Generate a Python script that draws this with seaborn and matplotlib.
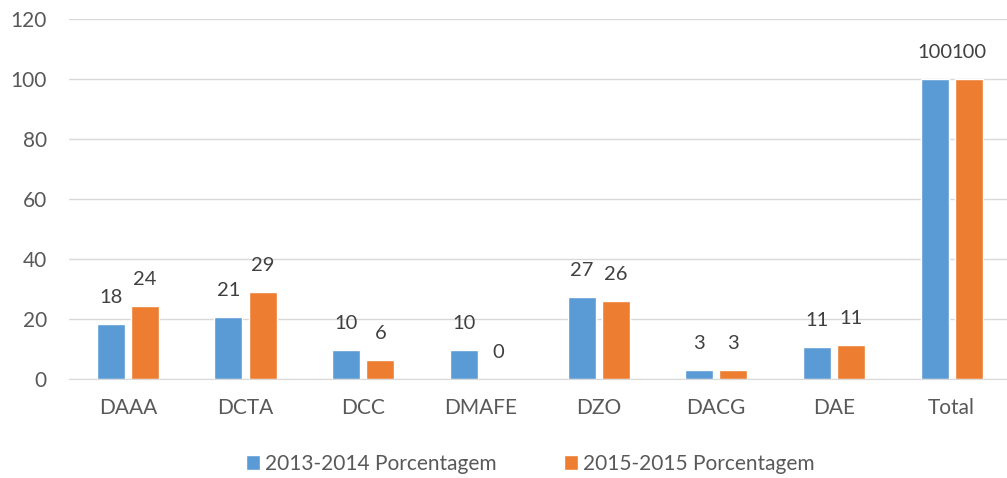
import pandas as pd
import matplotlib.pyplot as plt
import seaborn as sns

departamentos = ['DAAA', 'DCTA', 'DCC', 'DMAFE', 'DZO', 'DACG', 'DAE', 'Total']
pct_2013_2014 = [18.4, 20.8, 9.6, 9.6, 27.3, 3.05, 10.7, 100]
pct_2015_2015 = [24.3, 29.1, 6.2, 0, 25.9, 3.0, 11.2, 100]
series = ['2013-2014 Porcentagem', '2015-2015 Porcentagem']

df = pd.DataFrame({
    'departamento': departamentos * 2,
    'valor': pct_2013_2014 + pct_2015_2015,
    'serie': [series[0]] * len(departamentos) + [series[1]] * len(departamentos),
})

sns.set_style('white')
plt.rcParams['font.family'] = ['Lato', 'DejaVu Sans']

fig = plt.figure(figsize=(10.07, 4.78), dpi=100)
ax = fig.add_axes([0.0685, 0.207, 0.935, 0.753])

sns.barplot(data=df, x='departamento', y='valor', hue='serie',
            palette=['#5B9BD5', '#ED7D31'], width=0.58, gap=0.18,
            saturation=1, ax=ax, zorder=3)

for cont in ax.containers:
    ax.bar_label(cont, fmt='{:.0f}', padding=13, fontsize=14.5, color='#404040')

ax.set_ylim(0, 120)
ax.set_yticks(range(0, 121, 20))
ax.set_xlim(-0.5, len(departamentos) - 0.5)
ax.grid(axis='y', color='#D9D9D9', linewidth=1, zorder=0)
ax.set_xlabel('')
ax.set_ylabel('')
for s in ['top', 'right', 'left']:
    ax.spines[s].set_visible(False)
ax.spines['bottom'].set_color('#D9D9D9')
ax.tick_params(axis='both', length=0, labelsize=15, colors='#595959')
ax.tick_params(axis='x', pad=14)
ax.tick_params(axis='y', pad=16)

ax.legend(loc='upper center', bbox_to_anchor=(0.49, -0.155), ncol=2, frameon=False,
          fontsize=15, labelcolor='#595959', handlelength=0.7, handleheight=0.7,
          handletextpad=0.25, columnspacing=3.2)

fig.savefig('out.png', dpi=100)
